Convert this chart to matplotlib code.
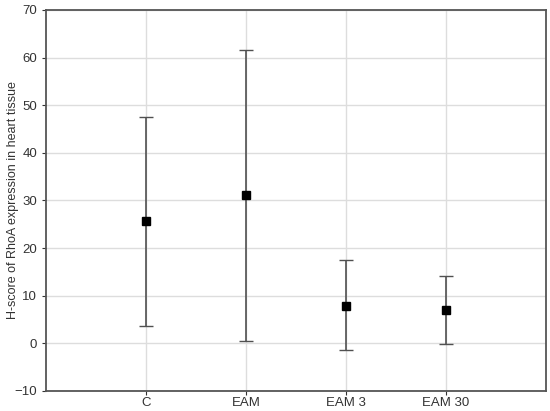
import numpy as np
import matplotlib.pyplot as plt

plt.rcParams['font.family'] = ['Liberation Sans', 'DejaVu Sans']

groups = ['C', 'EAM', 'EAM 3', 'EAM 30']
means = [25.7, 31.1, 7.9, 6.9]
upper = [47.6, 61.6, 17.4, 14.1]
lower = [3.7, 0.4, -1.4, -0.2]

means = np.array(means)
yerr = [means - np.array(lower), np.array(upper) - means]
x = np.arange(1, len(groups) + 1)

fig = plt.figure(figsize=(5.5, 4.11), dpi=100)
ax = fig.add_axes([0.0836, 0.0487, 0.9091, 0.927])

ax.errorbar(x, means, yerr=yerr, fmt='s', color='black', ms=6,
            ecolor='#505050', elinewidth=1.2, capsize=5, capthick=1.0, zorder=3)

ax.set_xlim(0, 5)
ax.set_ylim(-10, 70)
ax.set_xticks(x)
ax.set_xticklabels(groups)
ax.set_yticks(np.arange(-10, 71, 10))
ax.grid(True, color='#dddddd', lw=1.0)
ax.set_axisbelow(True)
for s in ax.spines.values():
    s.set_color('#555555')
    s.set_linewidth(1.3)
ax.tick_params(labelsize=9.5, colors='#333333', length=3, width=0.8)
ax.tick_params(axis='x', pad=1.5)
ax.set_ylabel('H-score of RhoA expression in heart tissue', fontsize=9, color='#333333')
ax.yaxis.set_label_coords(-0.054, 0.5)

fig.savefig('out.png', dpi=100)
